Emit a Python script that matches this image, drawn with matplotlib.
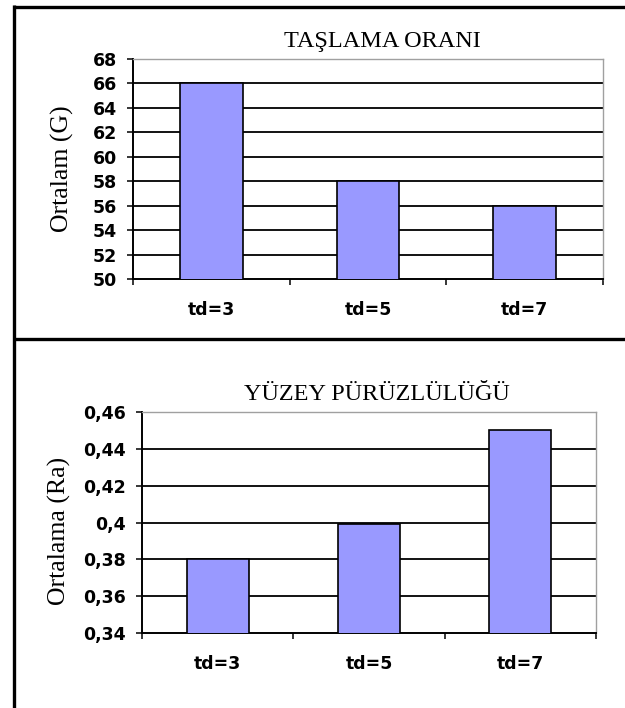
import matplotlib
matplotlib.use("Agg")
import matplotlib.pyplot as plt
from matplotlib.lines import Line2D
import numpy as np

# --- data -------------------------------------------------------------
categories = ["td=3", "td=5", "td=7"]

grind_values = [66, 58, 56]
grind_ticks = [50, 52, 54, 56, 58, 60, 62, 64, 66, 68]
grind_tick_labels = ["50", "52", "54", "56", "58", "60", "62", "64", "66", "68"]

rough_values = [0.38, 0.399, 0.45]
rough_ticks = [0.34, 0.36, 0.38, 0.40, 0.42, 0.44, 0.46]
rough_tick_labels = ["0,34", "0,36", "0,38", "0,4", "0,42", "0,44", "0,46"]

titles = ["TAŞLAMA ORANI", "YÜZEY PÜRÜZLÜLÜĞÜ"]
ylabels = ["Ortalam (G)", "Ortalama (Ra)"]

# --- style ------------------------------------------------------------
BAR_COLOR = "#9999FF"
SERIF = ["Liberation Serif", "DejaVu Serif"]
SANS_BOLD = ["DejaVu Sans"]

W, H = 625, 708
fig = plt.figure(figsize=(W / 100, H / 100), dpi=100)
fig.patch.set_facecolor("white")


def px_axes(left, top, right, bottom):
    return fig.add_axes([left / W, 1 - bottom / H, (right - left) / W, (bottom - top) / H])


def bar_panel(ax, values, ticks, tick_labels, width, title, title_xy, ylabel, ylabel_xy):
    x = np.arange(len(categories))
    ax.set_xlim(-0.5, len(categories) - 0.5)
    ax.set_ylim(ticks[0], ticks[-1])

    # interior horizontal gridlines
    ax.hlines(ticks[1:-1], -0.5, len(categories) - 0.5, colors="black",
              linewidth=1.3, zorder=1)

    ax.bar(x, values, width=width, color=BAR_COLOR, edgecolor="black",
           linewidth=1.2, zorder=3)

    # y axis
    ax.set_yticks(ticks)
    ax.set_yticklabels(tick_labels, fontfamily=SANS_BOLD, fontweight="bold", fontsize=12.5)
    ax.tick_params(axis="y", direction="out", length=4.5, width=1.1, pad=7,
                   colors="black")

    # x axis: ticks on category boundaries, labels centered on categories
    ax.set_xticks(np.arange(len(categories) + 1) - 0.5)
    ax.set_xticklabels([])
    ax.tick_params(axis="x", which="major", direction="out", length=4, width=1.1)
    ax.set_xticks(x, minor=True)
    ax.set_xticklabels(categories, minor=True, fontfamily=SANS_BOLD,
                       fontweight="bold", fontsize=12.5)
    ax.tick_params(axis="x", which="minor", length=0, pad=15.5)

    for side in ("left", "bottom"):
        ax.spines[side].set_color("black")
        ax.spines[side].set_linewidth(1.4)
    for side in ("top", "right"):
        ax.spines[side].set_color("#a0a0a0")
        ax.spines[side].set_linewidth(1.0)

    ax.set_facecolor("white")

    fig.text(title_xy[0] / W, 1 - title_xy[1] / H, title, fontfamily=SERIF,
             fontsize=17.5, ha="center", va="center")
    fig.text(ylabel_xy[0] / W, 1 - ylabel_xy[1] / H, ylabel, fontfamily=SERIF,
             fontsize=18.5, rotation=90, ha="center", va="center")


ax1 = px_axes(133, 59, 603, 279)
bar_panel(ax1, grind_values, grind_ticks, grind_tick_labels, 0.40,
          titles[0], (382, 41), ylabels[0], (62, 169))

ax2 = px_axes(142, 412, 596, 633)
bar_panel(ax2, rough_values, rough_ticks, rough_tick_labels, 0.41,
          titles[1], (377, 395), ylabels[1], (59, 531))

# outer frame: left edge, top edge and divider between the two panels
frame_kw = dict(color="black", linewidth=2.4, transform=fig.transFigure,
                solid_capstyle="butt")
fx = 14 / W
fig.add_artist(Line2D([fx, fx], [1 - 5 / H, 0], **frame_kw))
fig.add_artist(Line2D([fx - 1.2 / W, 1], [1 - 6.5 / H, 1 - 6.5 / H], **frame_kw))
fig.add_artist(Line2D([fx, 1], [1 - 339 / H, 1 - 339 / H], **frame_kw))

fig.savefig("out.png", dpi=100, facecolor="white")
